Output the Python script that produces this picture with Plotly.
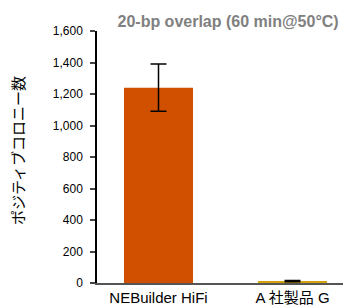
import plotly.graph_objects as go

categories = ["NEBuilder HiFi", "A 社製品 G"]
values = [1240, 12]
errors = [150, 4]
colors = ["#D05000", "#D4A20A"]
tick_vals = [0, 200, 400, 600, 800, 1000, 1200, 1400, 1600]
tick_text = ["0", "200", "400", "600", "800", "1,000", "1,200", "1,400", "1,600"]
y_title = "ポジティブコロニー数"
chart_title = "20-bp overlap (60 min@50°C)"

fig = go.Figure(go.Bar(
    x=categories, y=values,
    marker=dict(color=colors, line=dict(width=0)),
    width=0.515,
    error_y=dict(type="data", array=errors, color="black", thickness=1.5, width=8),
))

font_family = "Liberation Sans, Arial, Noto Sans CJK JP, sans-serif"
fig.update_layout(
    width=343, height=307,
    margin=dict(l=97, r=0, t=31, b=24),
    paper_bgcolor="white", plot_bgcolor="white",
    font=dict(family=font_family, size=12, color="black"),
    showlegend=False,
    title=dict(text="<b>" + chart_title + "</b>", x=0.665, xanchor="center",
               y=0.93, yanchor="middle", font=dict(size=16, color="#808080")),
    xaxis=dict(range=[-0.459, 1.377], showline=True, linecolor="#555555", linewidth=1.5,
               ticks="", showgrid=False, tickfont=dict(size=15), automargin=False),
    yaxis=dict(range=[0, 1600], tickvals=tick_vals, ticktext=tick_text, showline=True,
               linecolor="black", linewidth=1.5, ticks="outside", ticklen=5, tickwidth=1.5,
               ticklabelstandoff=5,
               showgrid=False, zeroline=False, automargin=False),
    annotations=[dict(text=y_title, textangle=-90, xref="paper", yref="paper",
                      x=-0.323, y=0.526, xanchor="center", yanchor="middle",
                      showarrow=False,
                      font=dict(size=15, family="Noto Sans CJK JP, sans-serif"))],
)
fig.write_html("out.html", config={"displayModeBar": False},
               post_script="document.body.style.margin='0';")
